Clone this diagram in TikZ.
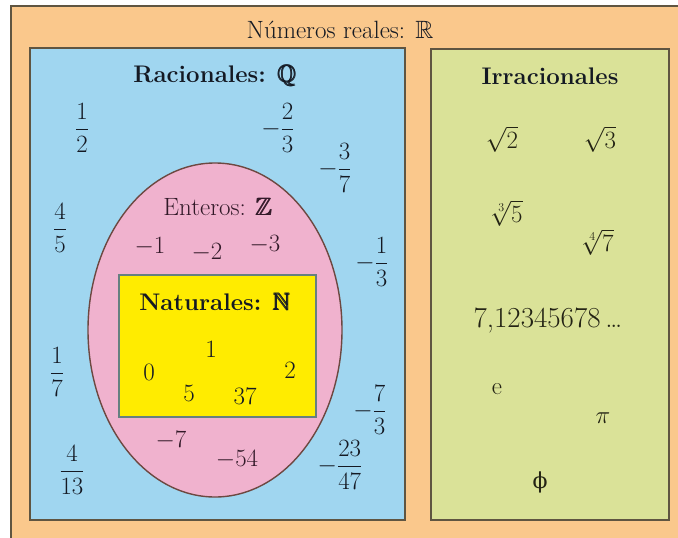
\documentclass[tikz,border=0pt]{standalone}
\usepackage{amsmath,amssymb}
\usepackage{fontspec}
\newfontfamily\dejaserif{DejaVu Serif}
\definecolor{orangebg}{RGB}{250,200,140}
\definecolor{bluebg}{RGB}{160,214,240}
\definecolor{pinkbg}{RGB}{240,178,206}
\definecolor{yellowbg}{RGB}{255,236,0}
\definecolor{greenbg}{RGB}{218,226,152}
\definecolor{edge}{RGB}{95,85,65}
\definecolor{ink}{RGB}{20,25,35}
\definecolor{pinkink}{RGB}{50,25,40}
\definecolor{greenink}{RGB}{35,35,20}
\tikzset{
  txt/.style={inner sep=1pt, text=ink, font=\fontsize{25}{28}\selectfont},
  ttl/.style={txt, font=\fontsize{24}{28}\selectfont\bfseries},
  ptxt/.style={txt, text=pinkink},
  gtxt/.style={txt, text=greenink},
  region/.style={draw=edge, line width=1.6pt},
}
\newcommand{\bbz}[1]{$\pmb{\mathbb{#1}}$}
\begin{document}
\begin{tikzpicture}[x=1pt,y=-1pt]
\useasboundingbox (0,0) rectangle (678,538);
\clip (0,0) rectangle (678,538);
\fill[white] (0,0) rectangle (678,538);
\draw[region, fill=orangebg] (11,6) rectangle (700,560);
\draw[region, fill=bluebg] (30,48) rectangle (405,520);
\draw[region, fill=greenbg] (431,49) rectangle (669,520);
\draw[region, line width=1.4pt, draw=edge!85!purple, fill=pinkbg] (215,330) ellipse [x radius=127, y radius=167];
\draw[draw=gray!80!teal, line width=1.6pt, fill=yellowbg] (119,275) rectangle (316,417);

\node[txt] (title) at (340,30) {Números reales: $\mathbb{R}$};
\node[ttl] (rac) at (215,76) {Racionales: \bbz{Q}};
\node[ttl] (irr) at (550,76) {Irracionales};

\node[txt] (q1) at (82,128) {$\dfrac{1}{2}$};
\node[txt] (q2) at (278,128) {$-\dfrac{2}{3}$};
\node[txt] (q3) at (335,168) {$-\dfrac{3}{7}$};
\node[txt] (q4) at (60,228) {$\dfrac{4}{5}$};
\node[txt] (q5) at (372,262) {$-\dfrac{1}{3}$};
\node[txt] (q6) at (57,372) {$\dfrac{1}{7}$};
\node[txt] (q7) at (370,410) {$-\dfrac{7}{3}$};
\node[txt] (q8) at (72,470) {$\dfrac{4}{13}$};
\node[txt] (q9) at (340,465) {$-\dfrac{23}{47}$};

\node[ptxt] (ent) at (218,207) {Enteros: \bbz{Z}};
\node[ptxt] (z1) at (150,247) {$-1$};
\node[ptxt] (z2) at (207,253) {$-2$};
\node[ptxt] (z3) at (265,245) {$-3$};
\node[ptxt] (z4) at (171,441) {$-7$};
\node[ptxt] (z5) at (237,460) {$-54$};

\node[ttl] (nat) at (215,302) {Naturales: \bbz{N}};
\node[txt] (n1) at (211,349) {1};
\node[txt] (n0) at (149,372) {0};
\node[txt] (n2) at (290,370) {2};
\node[txt] (n5) at (189,393) {5};
\node[txt] (n37) at (245,396) {37};

\node[gtxt] (r2) at (502,139) {$\sqrt{2}$};
\node[gtxt] (r3) at (600,139) {$\sqrt{3}$};
\node[gtxt] (r5) at (507,213) {$\sqrt[3]{5}$};
\node[gtxt] (r7) at (598,242) {$\sqrt[4]{7}$};
\node[gtxt, font=\fontsize{29}{32}\selectfont] (dec) at (548,320) {7,12345678\,\ldots};
\node[gtxt] (ee) at (497,389) {e};
\node[gtxt] (pi) at (603,418) {$\pi$};
\node[gtxt, font=\fontsize{22}{26}\selectfont\dejaserif] (phi) at (540,482) {ϕ};
\end{tikzpicture}
\end{document}
